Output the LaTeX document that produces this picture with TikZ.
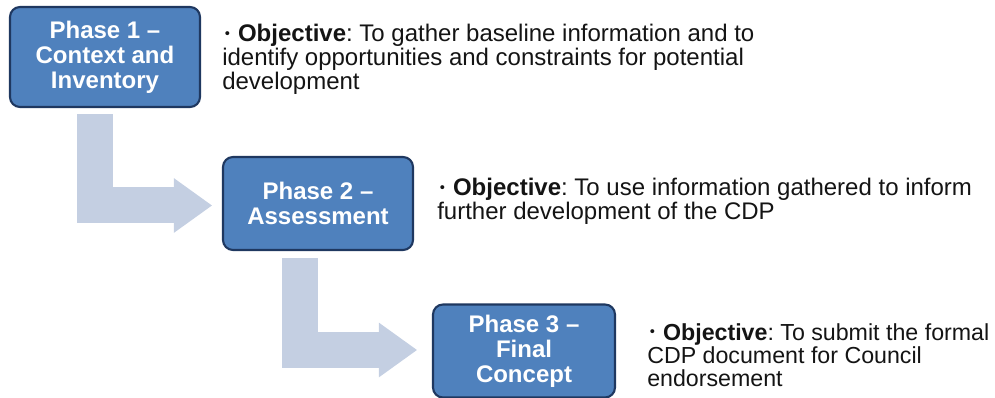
\documentclass[tikz,border=0pt]{standalone}
\usepackage{fontspec}
\setmainfont{Liberation Sans}
\usetikzlibrary{arrows.meta,calc}
\frenchspacing

\definecolor{phasefill}{RGB}{79,129,189}
\definecolor{phaseline}{RGB}{31,56,96}
\definecolor{flowarrow}{RGB}{196,207,226}
\definecolor{bodytext}{RGB}{20,20,20}

\newcommand{\objbullet}{\hspace{2pt}\raisebox{2.4pt}{\fontsize{11}{11}\selectfont\textbullet}\hspace{6pt}}

\tikzset{
  phase/.style={draw=phaseline,fill=phasefill,line width=1.6pt,
    rounded corners=7.5pt,text=white,align=center,inner sep=0pt,
    font=\bfseries\fontsize{18}{18.75}\selectfont},
  objtext/.style={anchor=base west,align=left,inner sep=0pt,text=bodytext,
    font=\fontsize{18}{18}\selectfont},
  flow/.style={draw=flowarrow,line width=27pt,line join=miter,
    -{Triangle[length=28.5pt,width=41pt,line width=0pt]}}
}

\begin{document}
\begin{tikzpicture}[x=0.75pt,y=-0.75pt]
    \useasboundingbox (0,0) rectangle (995,398);

    \node[phase,minimum width=142.5pt,minimum height=75pt] (phase1) at (105,57)
        {Phase 1 --\\Context and\\Inventory};
    \node[phase,minimum width=142.5pt,minimum height=69.75pt] (phase2) at (318,203.5)
        {Phase 2 --\\Assessment};
    \node[phase,minimum width=136.5pt,minimum height=69.75pt] (phase3) at (524,351)
        {Phase 3 --\\Final\\Concept};

    % base west of a multi-line node is the baseline of its last line
    \node[objtext] (obj1) at (222,90)
        {\objbullet\textbf{Objective}: To gather baseline information and to\\
         identify opportunities and constraints for potential\\
         development};
    \node[objtext] (obj2) at (437,220)
        {\objbullet\textbf{Objective}: To use information gathered to inform\\
         further development of the CDP};
    \node[objtext,font=\fontsize{17.4}{17.6}\selectfont] (obj3) at (647,387)
        {\objbullet\textbf{Objective}: To submit the formal\\
         CDP document for Council\\
         endorsement};

    % bent arrows between the phases
    \draw[flow] ($(phase1.south)+(-10,6)$) |- ($(phase2.west)+(-10,2)$);
    \draw[flow] ($(phase2.south)+(-18,7)$) |- ($(phase3.west)+(-15,-1)$);
\end{tikzpicture}
\end{document}
